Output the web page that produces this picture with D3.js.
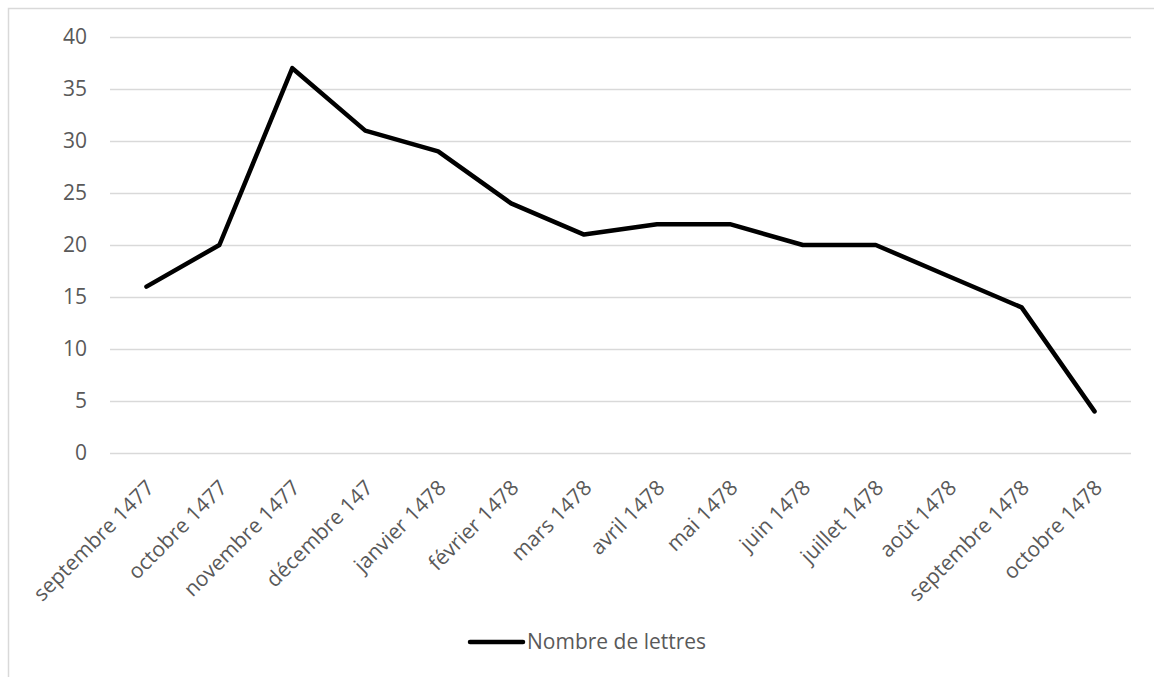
<!DOCTYPE html>
<html>
<head>
<meta charset="utf-8">
<script src="https://cdn.jsdelivr.net/npm/d3@7"></script>
<style>
  html, body { margin: 0; padding: 0; background: #fff; }
  svg { display: block; }
</style>
</head>
<body>
<svg id="chart" width="1154" height="677"></svg>
<script>
const categories = ["septembre 1477", "octobre 1477", "novembre 1477", "décembre 147", "janvier 1478", "février 1478", "mars 1478", "avril 1478", "mai 1478", "juin 1478", "juillet 1478", "août 1478", "septembre 1478", "octobre 1478"];
const lettres = [16, 20, 37, 31, 29, 24, 21, 22, 22, 20, 20, 17, 14, 4];
const yTicks = [0, 5, 10, 15, 20, 25, 30, 35, 40];
const seriesName = "Nombre de lettres";

const svg = d3.select("#chart");
const W = 1154, H = 677;
const plot = { left: 110, right: 1131, top: 37, bottom: 453 };
const FONT = "'Open Sans', 'Liberation Sans', sans-serif";

// outer chart border
svg.append("rect")
  .attr("x", 8.5).attr("y", 8.5)
  .attr("width", W + 10).attr("height", H + 10)
  .attr("fill", "none").attr("stroke", "#d9d9d9").attr("stroke-width", 1.5);

const x = d3.scaleBand().domain(categories).range([plot.left, plot.right]);
const y = d3.scaleLinear().domain([0, 40]).range([plot.bottom, plot.top]);

// gridlines
svg.append("g").selectAll("line").data(yTicks).join("line")
  .attr("x1", plot.left).attr("x2", plot.right)
  .attr("y1", d => Math.round(y(d)) + 0.5).attr("y2", d => Math.round(y(d)) + 0.5)
  .attr("stroke", "#d9d9d9").attr("stroke-width", 1.5);

// y axis labels
const yAxis = d3.axisLeft(y).tickValues(yTicks).tickSize(0).tickPadding(0);
const gy = svg.append("g").attr("transform", `translate(${plot.left - 23},0)`).call(yAxis);
gy.select(".domain").remove();
gy.selectAll("text")
  .attr("fill", "#595959")
  .style("font-family", FONT)
  .style("font-size", "21px");

// x axis labels
const xAxis = d3.axisBottom(x).tickSize(0).tickPadding(0);
const gx = svg.append("g").attr("transform", `translate(0,${plot.bottom})`).call(xAxis);
gx.select(".domain").remove();
gx.selectAll("text")
  .attr("fill", "#595959")
  .style("font-family", FONT)
  .style("font-size", "21px")
  .attr("text-anchor", "end")
  .attr("dy", "0")
  .attr("y", 0)
  .attr("transform", "translate(9,36) rotate(-45)");

// line
const line = d3.line()
  .x((d, i) => x(categories[i]) + x.bandwidth() / 2)
  .y(d => y(d));
svg.append("path")
  .datum(lettres)
  .attr("d", line)
  .attr("fill", "none")
  .attr("stroke", "#000")
  .attr("stroke-width", 4.5)
  .attr("stroke-linejoin", "round")
  .attr("stroke-linecap", "round");

// legend
const lg = svg.append("g").attr("transform", "translate(470,642)");
lg.append("line").attr("x1", 0).attr("x2", 53).attr("y1", 0).attr("y2", 0)
  .attr("stroke", "#000").attr("stroke-width", 4.5).attr("stroke-linecap", "round");
lg.append("text").attr("x", 57).attr("y", 0).attr("dy", "0.35em")
  .attr("fill", "#595959")
  .style("font-family", FONT)
  .style("font-size", "21px")
  .text(seriesName);
</script>
</body>
</html>
